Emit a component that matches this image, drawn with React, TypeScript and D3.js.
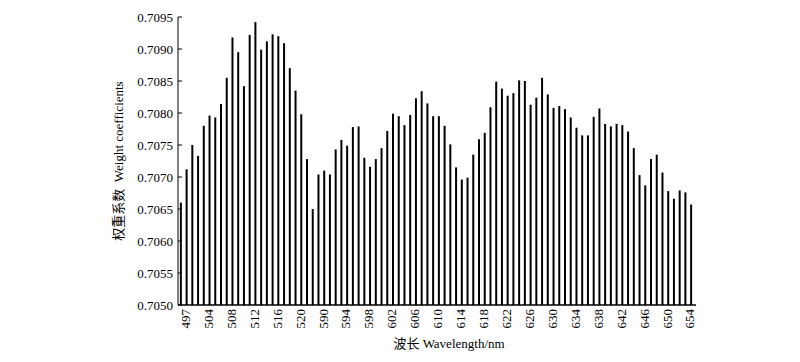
import React from "react";
import * as d3 from "d3";

const wavelengths: number[] = [
  496, 497, 500, 502, 503, 504, 505, 506, 507, 508, 509, 510, 511, 512, 513, 514, 515, 516, 517, 518,
  519, 520, 521, 522, 589, 590, 591, 592, 593, 594, 595, 596, 597, 598, 599, 600, 601, 602, 603, 604,
  605, 606, 607, 608, 609, 610, 611, 612, 613, 614, 615, 616, 617, 618, 619, 620, 621, 622, 623, 624,
  625, 626, 627, 628, 629, 630, 631, 632, 633, 634, 635, 636, 637, 638, 639, 640, 641, 642, 643, 644,
  645, 646, 647, 648, 649, 650, 651, 652, 653, 654,
];

const weights: number[] = [
  0.7066, 0.70712, 0.7075, 0.70733, 0.7078, 0.70796, 0.70793, 0.70814, 0.70855, 0.70918,
  0.70895, 0.70842, 0.70922, 0.70942, 0.70899, 0.70912, 0.70923, 0.7092, 0.70909, 0.7087,
  0.70835, 0.70798, 0.70728, 0.7065, 0.70704, 0.7071, 0.70704, 0.70743, 0.70758, 0.70749,
  0.70778, 0.70779, 0.7073, 0.70716, 0.70728, 0.70745, 0.70772, 0.70799, 0.70795, 0.70781,
  0.70797, 0.70823, 0.70834, 0.70815, 0.70795, 0.70795, 0.7078, 0.70751, 0.70715, 0.70696,
  0.70699, 0.70735, 0.70759, 0.70769, 0.70809, 0.70849, 0.70838, 0.70827, 0.70831, 0.70851,
  0.7085, 0.70813, 0.70824, 0.70855, 0.70829, 0.70808, 0.70811, 0.70806, 0.70793, 0.70777,
  0.70765, 0.70765, 0.70794, 0.70807, 0.70783, 0.70779, 0.70783, 0.70781, 0.70771, 0.70745,
  0.70703, 0.70687, 0.70728, 0.70735, 0.70707, 0.70678, 0.70666, 0.70679, 0.70676, 0.70657,
];

const yTicks: number[] = [0.705, 0.7055, 0.706, 0.7065, 0.707, 0.7075, 0.708, 0.7085, 0.709, 0.7095];
const labeledWavelengths: number[] = [
  497, 504, 508, 512, 516, 520, 590, 594, 598, 602, 606, 610, 614, 618, 622, 626, 630, 634, 638,
  642, 646, 650, 654,
];

const yTitle = "权重系数  Weight coefficients";
const xTitle = "波长 Wavelength/nm";

const FONT = "'Liberation Serif', 'Times New Roman', 'Noto Sans CJK SC', serif";

export default function App() {
  const left = 178;
  const right = 694;
  const top = 17;
  const bottom = 305;

  const x = d3
    .scaleBand<number>()
    .domain(wavelengths)
    .range([left, right])
    .padding(0);
  const y = d3.scaleLinear().domain([0.705, 0.7095]).range([bottom, top]);
  const barW = 2;

  return (
    <svg
      width={800}
      height={362}
      style={{ position: "absolute", left: 0, top: 0, background: "#fff" }}
      fontFamily={FONT}
    >
      <rect x={0} y={0} width={800} height={362} fill="#fff" />
      {wavelengths.map((w, i) => {
        const cx = (x(w) as number) + x.bandwidth() / 2;
        return (
          <rect
            key={w}
            x={cx - barW / 2}
            y={y(weights[i])}
            width={barW}
            height={bottom - y(weights[i])}
            fill="#000"
          />
        );
      })}
      {/* axes */}
      <line x1={left} x2={left} y1={top} y2={bottom} stroke="#000" strokeWidth={1} />
      <line x1={left} x2={right + 2} y1={bottom} y2={bottom} stroke="#000" strokeWidth={1.3} />
      {yTicks.map((t) => (
        <g key={t}>
          <line x1={left} x2={left + 4} y1={y(t)} y2={y(t)} stroke="#000" strokeWidth={1} />
          <text
            x={173}
            y={y(t)}
            dy="0.35em"
            textAnchor="end"
            fontSize={13}
            fill="#000"
          >
            {d3.format(".4f")(t)}
          </text>
        </g>
      ))}
      {labeledWavelengths.map((w) => {
        const cx = (x(w) as number) + x.bandwidth() / 2 - 1.2;
        return (
          <text
            key={w}
            transform={`translate(${cx},309) rotate(-90)`}
            dy="0.35em"
            textAnchor="end"
            fontSize={13}
            fill="#000"
          >
            {w}
          </text>
        );
      })}
      <text
        transform={`translate(118,${(top + bottom) / 2}) rotate(-90)`}
        textAnchor="middle"
        dy="0.35em"
        fontSize={13}
        fill="#000"
        style={{ whiteSpace: "pre" }}
      >
        {yTitle}
      </text>
      <text x={449} y={343} dy="0.35em" textAnchor="middle" fontSize={13} fill="#000">
        {xTitle}
      </text>
    </svg>
  );
}
